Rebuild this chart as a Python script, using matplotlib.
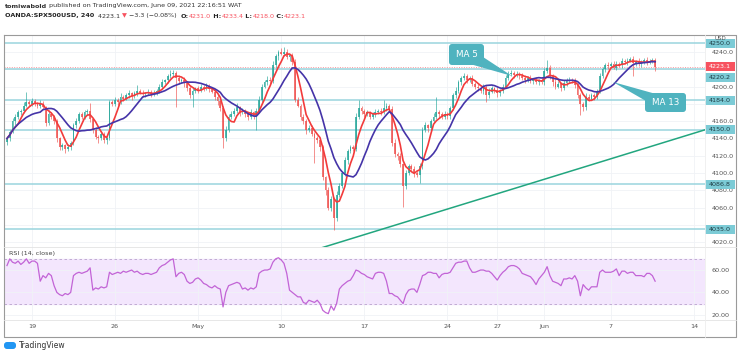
import numpy as np
import pandas as pd
import matplotlib
matplotlib.use('Agg')
import matplotlib.pyplot as plt
import matplotlib.transforms as mtransforms
from matplotlib.patches import FancyBboxPatch, Rectangle, Polygon

# OANDA:SPX500USD 4h closes (Apr 16 - Jun 9, 2021)
closes = [
    4140, 4148, 4160, 4165, 4170, 4172, 4178, 4182, 4180, 4183,
    4180, 4178, 4180, 4176, 4158, 4168, 4165, 4160, 4140, 4130,
    4132, 4128, 4130, 4135, 4155, 4160, 4168, 4165, 4170, 4172,
    4162, 4150, 4142, 4140, 4145, 4138, 4140, 4182, 4180, 4184,
    4182, 4188, 4186, 4190, 4192, 4189, 4192, 4195, 4193, 4191,
    4192, 4194, 4191, 4193, 4195, 4200, 4205, 4207, 4212, 4215,
    4216, 4210, 4206, 4208, 4204, 4198, 4190, 4195, 4198, 4196,
    4200, 4198, 4201, 4197, 4194, 4188, 4183, 4175, 4140, 4150,
    4165, 4168, 4172, 4176, 4170, 4172, 4168, 4165, 4170, 4166,
    4172, 4185, 4200, 4205, 4208, 4206, 4225, 4235, 4240, 4238,
    4240, 4234, 4236, 4228, 4185, 4178, 4165, 4160, 4150, 4152,
    4145, 4140, 4138, 4130, 4095, 4080, 4060, 4070, 4048, 4075,
    4085, 4100, 4115, 4125, 4130, 4128, 4165, 4175, 4172, 4168,
    4170, 4165, 4168, 4170, 4172, 4170, 4175, 4178, 4174, 4135,
    4122, 4120, 4110, 4085, 4100, 4108, 4105, 4100, 4098, 4108,
    4150, 4155, 4152, 4160, 4165, 4170, 4168, 4165, 4168, 4166,
    4175, 4190, 4195, 4205, 4210, 4212, 4208, 4210, 4203, 4200,
    4198, 4195, 4200, 4190, 4194, 4198, 4196, 4192, 4195, 4200,
    4210, 4214, 4216, 4213, 4215, 4212, 4210, 4208, 4210, 4206,
    4208, 4205, 4207, 4205, 4218, 4222, 4212, 4205, 4200, 4203,
    4198, 4204, 4206, 4208, 4207, 4202, 4190, 4180, 4176, 4188,
    4186, 4190, 4188, 4195, 4212, 4220, 4225, 4224, 4226, 4222,
    4226, 4225, 4230, 4228, 4230, 4232, 4227, 4229, 4226, 4228,
    4231, 4228, 4230, 4231, 4223.1,
]
first_open = 4136

wick_up = [
    3, 2, 4, 3, 3, 2, 4, 12, 3, 4,
    3, 2, 4, 3, 2, 5, 3, 2, 3, 2,
    3, 2, 4, 2, 3, 4, 3, 2, 3, 2,
    9, 2, 3, 2, 4, 3, 2, 3, 2, 4,
    3, 4, 2, 3, 4, 2, 3, 7, 2, 3,
    2, 3, 2, 3, 2, 3, 4, 2, 3, 4,
    3, 2, 3, 2, 3, 2, 3, 4, 2, 3,
    3, 2, 3, 2, 3, 2, 3, 2, 3, 4,
    3, 4, 3, 5, 2, 3, 2, 3, 4, 2,
    3, 4, 3, 2, 4, 3, 4, 3, 2, 4,
    6, 3, 2, 3, 4, 3, 2, 3, 2, 4,
    3, 2, 3, 2, 3, 2, 4, 3, 2, 4,
    3, 2, 4, 3, 2, 3, 4, 9, 3, 2,
    3, 2, 3, 4, 2, 3, 9, 3, 2, 3,
    4, 2, 3, 2, 4, 3, 2, 3, 2, 4,
    3, 4, 2, 3, 4, 18, 3, 2, 4, 3,
    2, 3, 4, 3, 2, 4, 3, 2, 3, 2,
    3, 2, 3, 2, 4, 3, 2, 3, 2, 3,
    3, 4, 3, 2, 3, 2, 4, 3, 2, 3,
    2, 3, 2, 4, 3, 9, 3, 2, 4, 3,
    2, 3, 4, 3, 2, 3, 2, 3, 2, 4,
    3, 2, 3, 2, 4, 3, 2, 3, 2, 3,
    3, 2, 3, 2, 3, 2, 3, 2, 4, 3,
    2, 3, 2, 2, 2.4,
]
wick_dn = [
    3, 3, 2, 4, 2, 3, 3, 2, 3, 2,
    2, 3, 3, 2, 4, 3, 2, 3, 4, 3,
    3, 5, 2, 3, 2, 3, 2, 3, 2, 3,
    3, 4, 3, 5, 2, 3, 4, 2, 3, 2,
    3, 2, 3, 2, 3, 4, 2, 3, 2, 3,
    3, 2, 3, 2, 3, 2, 3, 2, 3, 2,
    3, 34, 3, 2, 4, 3, 3, 14, 2, 3,
    2, 3, 2, 3, 2, 3, 4, 3, 11, 3,
    2, 3, 2, 3, 4, 2, 3, 4, 2, 3,
    16, 2, 3, 2, 3, 4, 2, 3, 4, 2,
    3, 2, 4, 3, 3, 2, 4, 3, 5, 3,
    2, 28, 3, 4, 3, 5, 3, 4, 14, 3,
    3, 2, 3, 4, 2, 3, 2, 3, 4, 3,
    2, 3, 2, 3, 2, 3, 2, 3, 3, 4,
    3, 5, 3, 24, 3, 2, 3, 4, 3, 10,
    3, 2, 4, 3, 2, 3, 4, 3, 2, 4,
    3, 2, 3, 2, 3, 2, 4, 3, 2, 3,
    3, 2, 4, 8, 3, 2, 3, 4, 3, 2,
    2, 3, 2, 3, 2, 3, 2, 4, 3, 2,
    3, 2, 3, 2, 3, 2, 3, 4, 3, 2,
    3, 2, 3, 2, 3, 4, 3, 13, 4, 3,
    3, 2, 3, 2, 3, 2, 3, 4, 3, 2,
    3, 2, 3, 2, 3, 2, 15, 3, 2, 3,
    2, 3, 2, 3, 5.1,
]

# RSI(14, close)
rsi = [
    64, 70, 67, 66, 68, 65, 67, 70, 66, 68,
    68, 66, 50, 55, 53, 57, 55, 46, 40, 38,
    37, 39, 38, 40, 55, 57, 58, 57, 58, 59,
    62, 42, 44, 43, 45, 44, 45, 58, 56, 57,
    58, 57, 59, 58, 59, 60, 58, 59, 57, 56,
    57, 57, 56, 57, 58, 62, 64, 65, 67, 69,
    70, 54, 57, 58, 56, 50, 48, 49, 52, 53,
    51, 48, 47, 45, 44, 46, 44, 43, 27, 40,
    46, 47, 48, 49, 48, 43, 44, 42, 44, 43,
    45, 57, 59, 60, 60, 61, 67, 70, 71, 69,
    66, 57, 42, 40, 38, 36, 36, 31, 30, 33,
    32, 31, 33, 30, 24, 22, 21, 28, 24, 30,
    43, 46, 48, 50, 51, 55, 60, 59, 57, 56,
    54, 53, 52, 57, 58, 58, 57, 50, 39, 39,
    37, 36, 33, 30, 38, 42, 43, 43, 40, 47,
    55, 56, 58, 58, 57, 57, 53, 56, 57, 57,
    58, 62, 66, 67, 67, 68, 68, 62, 58, 58,
    59, 60, 60, 59, 59, 57, 54, 51, 55, 58,
    60, 63, 64, 64, 63, 61, 57, 56, 55, 54,
    51, 47, 52, 55, 58, 63, 55, 50, 49, 48,
    46, 52, 52, 53, 52, 55, 50, 37, 47, 44,
    42, 45, 45, 45, 58, 60, 58, 58, 58, 59,
    61, 55, 59, 59, 57, 58, 58, 55, 55, 55,
    54, 57, 57, 55, 50,
]

date_idx = [9, 39, 69, 99, 129, 159, 177, 194, 218, 248]
date_lbl = ['19', '26', 'May', '10', '17', '24', '27', 'Jun', '7', '14']

levels = [4250.0, 4220.2, 4184.0, 4150.0, 4086.8, 4035.0]
last_price = 4223.1
trend_x = [113, 252]
trend_y = [4013, 4150]

# scale ticks; the ones hidden behind level tags are left out
price_ticks = [4020, 4060, 4080, 4100, 4120, 4140, 4160, 4200, 4240]

W, H = 740, 357
UP, DOWN = '#26a69a', '#ef5350'
GRID = '#f0f2f6'
TXT = '#555555'
FS = 4.6

plt.rcParams['font.family'] = ['DejaVu Sans']

fig = plt.figure(figsize=(W / 100, H / 100), dpi=100)
fig.patch.set_facecolor('white')

ax = fig.add_axes([3.5 / W, 1 - 247 / H, 701.5 / W, 212 / H])
ax2 = fig.add_axes([3.5 / W, 1 - 320 / H, 701.5 / W, 73 / H], sharex=ax)

# pixel-coordinate overlay for frame, header, callouts (drawn on top)
bg = fig.add_axes([0, 0, 1, 1])
bg.set_xlim(0, W)
bg.set_ylim(H, 0)
bg.axis('off')
bg.set_zorder(10)

idx = np.arange(len(closes))
c = np.array(closes, dtype=float)
o = np.array([first_open] + closes[:-1], dtype=float)
hi = np.maximum(o, c) + np.array(wick_up)
lo = np.minimum(o, c) - np.array(wick_dn)
cols = np.where(c >= o, UP, DOWN)

# levels and current price
for lv in levels:
    ax.axhline(lv, color='#9ad4de', lw=1.1, zorder=1)
ax.axhline(last_price, color='#f7525f', lw=0.7, ls=(0, (1, 1.5)), alpha=0.6, zorder=1)

ax.vlines(idx, lo, hi, colors=cols, lw=0.6, alpha=0.75, zorder=2)
body = np.maximum(np.abs(c - o), 0.4)
ax.bar(idx, body, bottom=np.minimum(o, c), width=0.65, color=cols, alpha=0.8, zorder=3)

ma5 = pd.Series(c).rolling(5, min_periods=1).mean()
ma13 = pd.Series(c).rolling(13, min_periods=1).mean()
ax.plot(idx, ma5, color='#f23b3b', lw=1.2, zorder=4)
ax.plot(idx, ma13, color='#4534a8', lw=1.2, zorder=4)

ax.plot(trend_x, trend_y, color='#22a67f', lw=1.1, zorder=4)

ax.set_xlim(-1.26, 252.0)
ax.set_ylim(4014.5, 4259.6)
ax.yaxis.tick_right()
ax.set_yticks(price_ticks)
ax.set_yticklabels(['%.1f' % v for v in price_ticks])
ax.tick_params(axis='y', length=0, pad=5, labelsize=FS, labelcolor=TXT)
ax.tick_params(axis='x', length=0, labelbottom=False)
ax.set_xticks(date_idx)
ax.set_yticks(np.arange(4020, 4260, 20), minor=True)
ax.tick_params(axis='y', which='minor', length=0)
ax.grid(True, which='both', color=GRID, lw=0.6)
ax.set_axisbelow(True)
for s in ax.spines.values():
    s.set_visible(False)

# price labels on the right scale
blend = mtransforms.blended_transform_factory(ax.transAxes, ax.transData)
bw = 30 / 701.5
bh = 9 / 0.864
for lv in levels:
    yc = lv - 9.5 if lv == 4220.2 else lv  # pushed below the last-price tag
    ax.add_patch(Rectangle((1.0, yc - bh / 2), bw, bh, transform=blend,
                           fc='#7ccbd6', ec='none', clip_on=False, zorder=6))
    ax.text(1.0 + bw / 2, yc, '%.1f' % lv, transform=blend, ha='center', va='center',
            size=FS, color='#1d3c44', zorder=7, clip_on=False)
ax.add_patch(Rectangle((1.0, last_price - bh / 2), bw, bh, transform=blend,
                       fc='#f7525f', ec='none', clip_on=False, zorder=8))
ax.text(1.0 + bw / 2, last_price, '%.1f' % last_price, transform=blend, ha='center',
        va='center', size=FS, color='white', zorder=9, clip_on=False)

# RSI pane
ax2.axhspan(30, 70, color='#f3e6fd', zorder=0)
ax2.axhline(70, color='#b9a3cc', lw=0.6, ls=(0, (3, 3)), zorder=1)
ax2.axhline(30, color='#b9a3cc', lw=0.6, ls=(0, (3, 3)), zorder=1)
ax2.plot(idx, rsi, color='#c264d6', lw=0.9, zorder=3)
ax2.set_ylim(15.3, 80.6)
ax2.yaxis.tick_right()
ax2.set_yticks([20, 40, 60])
ax2.set_yticklabels(['20.00', '40.00', '60.00'])
ax2.tick_params(axis='y', length=0, pad=5, labelsize=FS, labelcolor=TXT)
ax2.set_xticks(date_idx)
ax2.set_xticklabels(date_lbl)
ax2.tick_params(axis='x', length=0, pad=3, labelsize=FS, labelcolor=TXT)
ax2.grid(True, color=GRID, lw=0.6)
ax2.set_axisbelow(True)
for s in ax2.spines.values():
    s.set_visible(False)
ax2.text(0.008, 74.5, 'RSI (14, close)', transform=mtransforms.blended_transform_factory(
    ax2.transAxes, ax2.transData), size=FS, color='#444444', va='center')

# frame and separators
bg.plot([3.5, 736, 736, 3.5, 3.5], [35, 35, 336.5, 336.5, 35], color='#9a9a9a', lw=0.8)
bg.plot([3.5, 736], [247, 247], color='#e3e3e3', lw=0.6)
bg.plot([3.5, 736], [320, 320], color='#e3e3e3', lw=0.6)
bg.plot([705, 705], [35, 336.5], color='#eeeeee', lw=0.6)
bg.text(720, 38.5, 'USD', size=4, color=TXT, ha='center', va='center')

# header
def chain(parts, x, y):
    prev = None
    for txt, weight, color in parts:
        if prev is None:
            prev = bg.text(x, y, txt, weight=weight, color=color, size=FS,
                           ha='left', va='center')
        else:
            prev = bg.annotate(txt, xy=(1, 0), xycoords=prev, weight=weight,
                               color=color, size=FS, ha='left', va='bottom')

RED = '#f7525f'
chain([('tomiwabold', 'bold', '#333333'),
       (' published on TradingView.com, June 09, 2021 22:16:51 WAT', 'normal', '#333333')],
      5, 6)
chain([('OANDA:SPX500USD, 240', 'bold', '#222222'),
       ('  4223.1 ', 'normal', '#333333'),
       ('▼', 'normal', RED),
       (' \u22123.3 (\u22120.08%)  ', 'normal', '#333333'),
       ('O:', 'bold', '#222222'), ('4231.0', 'normal', RED),
       (' H:', 'bold', '#222222'), ('4233.4', 'normal', RED),
       (' L:', 'bold', '#222222'), ('4218.0', 'normal', RED),
       (' C:', 'bold', '#222222'), ('4223.1', 'normal', RED)],
      5, 16)

# MA callouts
TEAL = '#4fb3bf'
bg.add_patch(Polygon([(470, 64), (483, 57), (512, 76)], closed=True, fc=TEAL, ec='none'))
bg.add_patch(FancyBboxPatch((449, 44), 35, 21, boxstyle='round,pad=0,rounding_size=3',
                            fc=TEAL, ec='none'))
bg.text(466.5, 54.5, 'MA 5', color='white', size=6.3, ha='center', va='center')
bg.add_patch(Polygon([(646, 101), (656, 94), (613, 82)], closed=True, fc=TEAL, ec='none'))
bg.add_patch(FancyBboxPatch((645, 93), 41, 19, boxstyle='round,pad=0,rounding_size=3',
                            fc=TEAL, ec='none'))
bg.text(665.5, 102.5, 'MA 13', color='white', size=6.3, ha='center', va='center')

# footer logo
bg.add_patch(FancyBboxPatch((4, 342), 12, 7, boxstyle='round,pad=0,rounding_size=3',
                            fc='#2196f3', ec='none'))
bg.text(19, 346, 'TradingView', size=5.5, color='#333333', ha='left', va='center')

fig.savefig('out.png', dpi=100)
